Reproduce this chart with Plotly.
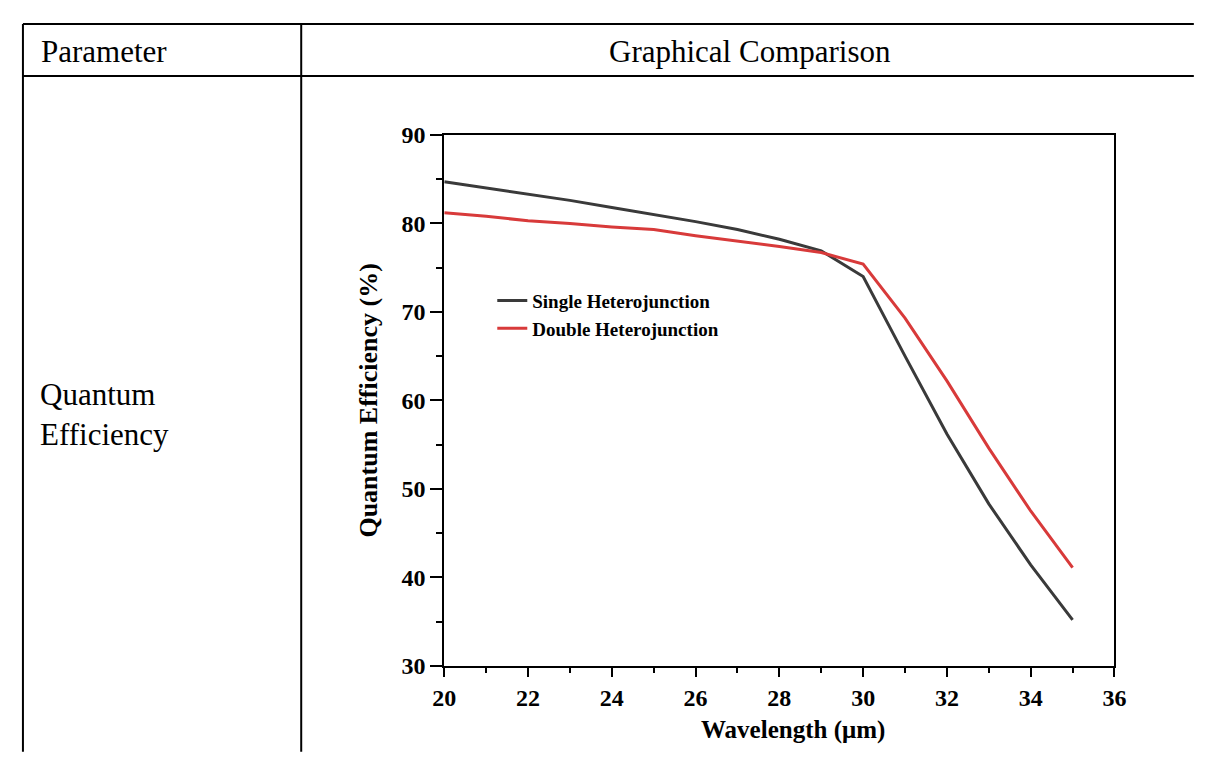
import plotly.graph_objects as go

wavelength = [20, 21, 22, 23, 24, 25, 26, 27, 28, 29, 30, 31, 32, 33, 34, 35]
single_hj = [84.7, 84.0, 83.3, 82.6, 81.8, 81.0, 80.2, 79.3, 78.2, 76.9, 74.0, 65.0, 56.2, 48.3, 41.4, 35.2]
double_hj = [81.2, 80.8, 80.3, 80.0, 79.6, 79.3, 78.6, 78.0, 77.4, 76.7, 75.4, 69.3, 62.2, 54.6, 47.5, 41.1]
x_ticks = [20, 22, 24, 26, 28, 30, 32, 34, 36]
y_ticks = [30, 40, 50, 60, 70, 80, 90]

# page body has an 8px margin; keep the figure inside the 1206x765 window
OFF = 8
W, H = 1206 - 2 * OFF, 765 - 2 * OFF
def px(x):
    return (x - OFF) / W
def py(y):
    return 1 - (y - OFF) / H

serif = "Liberation Serif"

fig = go.Figure()
fig.add_trace(go.Scatter(x=wavelength, y=single_hj, mode="lines", name="Single Heterojunction",
                         legendgroup="a", line=dict(color="#3a3a3a", width=3)))
fig.add_trace(go.Scatter(x=wavelength, y=double_hj, mode="lines", name="Double Heterojunction",
                         legendgroup="b", line=dict(color="#d83a3a", width=3)))

axis_common = dict(showgrid=False, zeroline=False, showline=True, linecolor="black", linewidth=2,
                   mirror=True, ticks="outside", tickcolor="black", tickwidth=2,
                   tickfont=dict(family=serif, size=24, color="black", weight="bold"))

fig.update_layout(
    width=W, height=H, margin=dict(l=0, r=0, t=0, b=0),
    paper_bgcolor="white", plot_bgcolor="white",
    showlegend=True,
    legend=dict(x=px(490), y=py(278), xanchor="left", yanchor="top",
                font=dict(family=serif, size=19, color="black", weight="bold"),
                bgcolor="rgba(0,0,0,0)", tracegroupgap=0),
    xaxis=dict(domain=[px(441), px(1125)], range=[20, 36], tickvals=x_ticks, ticklen=9,
               minor=dict(ticks="outside", dtick=1, ticklen=5, tickwidth=2, tickcolor="black"),
               **axis_common),
    yaxis=dict(domain=[py(676), py(126)], range=[30, 90], tickvals=y_ticks, ticklen=12,
               minor=dict(ticks="outside", dtick=5, ticklen=6, tickwidth=2, tickcolor="black"),
               title=dict(text="Quantum Efficiency (%)", font=dict(family=serif, size=26, color="black", weight="bold"),
                          standoff=16),
               **axis_common),
)

# x-axis title (placed off-centre as in the original)
fig.add_annotation(text="Wavelength (μm)", xref="paper", yref="paper", x=px(797), y=py(743),
                   xanchor="center", yanchor="middle", showarrow=False,
                   font=dict(family=serif, size=25, color="black", weight="bold"))

# table frame
lines = [
    (11, 11, 1206, 11),
    (11, 65, 1206, 65),
    (11, 11, 11, 765),
    (295, 11, 295, 765),
]
for x0, y0, x1, y1 in lines:
    fig.add_shape(type="line", xref="paper", yref="paper", x0=px(x0), y0=py(y0), x1=px(x1), y1=py(y1),
                  line=dict(color="black", width=2))

table_font = dict(family=serif, size=31, color="black")
fig.add_annotation(text="Parameter", xref="paper", yref="paper", x=px(27), y=py(40),
                   xanchor="left", yanchor="middle", showarrow=False, font=table_font)
fig.add_annotation(text="Graphical Comparison", xref="paper", yref="paper", x=px(753), y=py(40),
                   xanchor="center", yanchor="middle", showarrow=False, font=table_font)
fig.add_annotation(text="Quantum<br>Efficiency", xref="paper", yref="paper", x=px(26), y=py(416),
                   xanchor="left", yanchor="middle", showarrow=False, align="left", font=table_font)

fig.write_html("out.html")
